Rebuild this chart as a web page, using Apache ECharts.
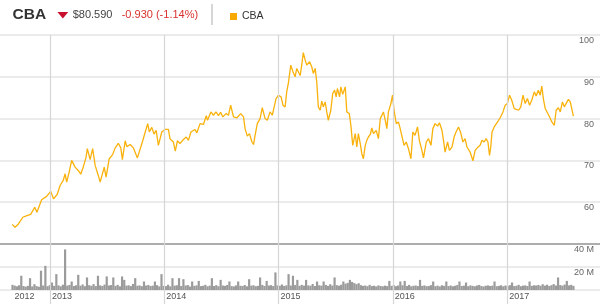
<!DOCTYPE html>
<html><head><meta charset="utf-8">
<script src="https://cdn.jsdelivr.net/npm/echarts@6/dist/echarts.min.js"></script>
<style>html,body{margin:0;padding:0;background:#fff}#c{width:600px;height:304px}</style>
</head><body><div id="c"></div>
<script>
const ticker = 'CBA';
const lastPrice = '$80.590';
const change = '-0.930 (-1.14%)';

const priceDates = [
'2012-09-02','2012-09-11','2012-09-22','2012-10-06','2012-10-19','2012-10-31','2012-11-13','2012-11-20','2012-12-05','2012-12-21',
'2013-01-03','2013-01-12','2013-01-24','2013-02-02','2013-02-12','2013-02-18','2013-02-23','2013-03-03','2013-03-11','2013-03-22',
'2013-04-01','2013-04-09','2013-04-17','2013-04-26','2013-04-30','2013-05-09','2013-05-17','2013-05-25','2013-06-04','2013-06-10',
'2013-06-15','2013-06-23','2013-06-29','2013-07-09','2013-07-20','2013-07-28','2013-08-07','2013-08-15','2013-08-20','2013-08-29',
'2013-09-03','2013-09-14','2013-09-24','2013-10-07','2013-10-13','2013-10-24','2013-11-01','2013-11-09','2013-11-14','2013-11-22',
'2013-11-29','2013-12-06','2013-12-13','2013-12-19','2013-12-24','2014-01-03','2014-01-14','2014-01-19','2014-01-30','2014-02-05',
'2014-02-12','2014-02-20','2014-03-03','2014-03-12','2014-03-19','2014-03-27','2014-04-09','2014-04-15','2014-04-25','2014-05-06',
'2014-05-15','2014-05-19','2014-05-30','2014-06-07','2014-06-15','2014-06-23','2014-06-30','2014-07-07','2014-07-17','2014-07-25',
'2014-08-01','2014-08-10','2014-08-21','2014-09-02','2014-09-11','2014-09-16','2014-09-23','2014-09-30','2014-10-08','2014-10-13',
'2014-10-18','2014-10-25','2014-11-03','2014-11-10','2014-11-19','2014-11-26','2014-12-05','2014-12-12','2014-12-18','2014-12-24',
'2015-01-01','2015-01-09','2015-01-15','2015-01-22','2015-01-27','2015-02-02','2015-02-09','2015-02-16','2015-02-23','2015-02-28',
'2015-03-11','2015-03-16','2015-03-21','2015-03-27','2015-04-01','2015-04-10','2015-04-17','2015-04-22','2015-04-28','2015-05-03',
'2015-05-05','2015-05-08','2015-05-14','2015-05-19','2015-05-24','2015-05-30','2015-06-04','2015-06-09','2015-06-17','2015-06-23',
'2015-06-29','2015-07-04','2015-07-08','2015-07-15','2015-07-19','2015-07-25','2015-08-02','2015-08-07','2015-08-15','2015-08-20',
'2015-08-23','2015-08-26','2015-09-03','2015-09-08','2015-09-13','2015-09-19','2015-09-24','2015-09-29','2015-10-05','2015-10-10',
'2015-10-15','2015-10-21','2015-10-26','2015-10-31','2015-11-09','2015-11-16','2015-11-22','2015-11-27','2015-12-02','2015-12-08',
'2015-12-13','2015-12-18','2015-12-26','2015-12-31','2016-01-05','2016-01-12','2016-01-19','2016-01-24','2016-01-30','2016-02-06',
'2016-02-13','2016-02-20','2016-02-28','2016-03-05','2016-03-12','2016-03-20','2016-03-26','2016-04-03','2016-04-08','2016-04-17',
'2016-04-24','2016-05-02','2016-05-08','2016-05-15','2016-05-23','2016-05-29','2016-06-06','2016-06-11','2016-06-16','2016-06-24',
'2016-06-30','2016-07-08','2016-07-15','2016-07-21','2016-07-29','2016-08-05','2016-08-12','2016-08-19','2016-08-25','2016-09-04',
'2016-09-13','2016-09-20','2016-09-27','2016-10-06','2016-10-12','2016-10-19','2016-10-25','2016-10-31','2016-11-05','2016-11-09',
'2016-11-13','2016-11-20','2016-11-26','2016-12-04','2016-12-09','2016-12-18','2016-12-25','2017-01-01','2017-01-08','2017-01-15',
'2017-01-23','2017-01-29','2017-02-06','2017-02-13','2017-02-20','2017-02-27','2017-03-06','2017-03-13','2017-03-20','2017-03-28',
'2017-04-03','2017-04-10','2017-04-16','2017-04-21','2017-04-26','2017-05-02','2017-05-09','2017-05-16','2017-05-23','2017-05-31',
'2017-06-06','2017-06-13','2017-06-19','2017-06-26','2017-07-02','2017-07-08','2017-07-15','2017-07-21','2017-07-26','2017-07-31'
];
const priceValues = [
54.7,54.0,54.8,56.4,56.8,57.1,58.8,57.6,60.6,61.4,
62.6,60.8,61.9,64.0,65.2,66.8,64.8,67.2,70.0,68.4,
67.6,66.7,68.4,70.8,72.8,70.2,72.8,68.8,66.4,64.8,
65.2,68.4,66.0,70.4,71.4,73.0,74.1,73.0,70.2,74.7,
73.3,73.8,73.0,70.6,71.0,74.7,76.8,78.8,76.8,77.9,
76.3,77.2,73.6,73.6,76.8,77.4,77.4,75.2,74.4,72.2,
74.7,74.0,75.0,75.6,74.8,76.8,77.4,76.6,78.8,78.6,
80.7,79.6,81.6,80.8,81.6,80.7,81.5,80.4,81.2,80.8,
83.2,80.4,80.2,81.2,80.4,77.6,75.8,76.4,74.4,73.8,
76.0,78.8,80.0,82.6,80.0,79.6,81.6,80.8,82.8,84.8,
85.6,85.2,83.2,82.8,86.4,88.8,92.8,91.2,90.0,92.0,
90.3,92.8,95.8,94.0,92.8,93.6,92.4,90.8,92.0,88.8,
86.4,82.8,82.0,84.2,82.8,84.0,81.6,79.6,82.0,86.0,
86.8,85.2,87.2,85.2,87.6,85.8,87.6,81.6,81.2,78.4,
76.0,73.6,76.4,73.2,76.4,74.0,71.6,70.4,73.6,74.8,
75.6,76.2,77.8,76.4,77.2,75.2,80.0,80.4,81.6,79.6,
77.6,81.6,83.6,85.6,82.0,78.8,79.2,77.8,77.6,73.6,
74.4,72.8,70.4,76.8,76.0,78.0,74.7,72.4,70.6,74.4,
75.2,73.6,77.6,78.8,78.2,79.0,77.2,74.8,72.0,74.4,
72.4,73.2,75.6,76.8,78.0,76.6,74.4,75.2,73.2,72.0,
69.9,72.4,73.0,73.6,74.8,74.4,75.2,74.4,71.2,73.2,
76.8,78.0,77.6,79.6,80.2,81.6,83.2,83.6,85.6,84.4,
82.4,82.8,82.0,82.8,85.6,83.6,84.8,83.2,84.4,86.4,
85.4,86.8,85.6,87.8,84.8,82.4,81.4,80.4,79.2,78.4,
82.0,82.6,81.6,84.0,82.8,83.2,84.6,84.0,84.4,80.6
];

// weekly volume in millions, first week starting volumeStart
const volumeStart = '2012-09-03';
const volumeValues = [
4.5,3.8,3.2,4.1,12.4,3.5,2.9,3.6,10.3,3.1,
5.0,3.4,2.8,16.8,3.9,21.0,3.3,4.2,6.5,3.6,
13.8,4.0,3.2,4.6,35.3,3.8,4.4,7.4,3.5,4.1,
13.2,3.7,4.8,3.3,10.9,4.2,3.6,5.1,3.4,12.4,
4.0,3.5,4.7,11.8,3.9,4.3,10.9,3.6,4.5,3.2,
11.8,8.8,3.8,4.1,3.4,5.2,10.3,3.7,4.0,3.3,
7.4,3.9,4.4,3.5,3.8,7.4,4.2,3.1,13.8,3.6,
3.4,4.6,3.2,10.3,3.8,4.1,10.3,3.5,9.4,3.9,
4.3,3.0,7.4,3.6,4.0,7.9,3.4,3.7,4.5,3.2,
3.8,10.3,3.5,4.2,3.3,8.8,3.9,3.6,4.4,7.4,
3.4,3.1,4.0,7.4,3.7,3.5,4.3,3.2,9.4,3.8,
4.1,3.3,3.6,10.9,4.4,3.5,7.9,3.9,4.2,3.4,
15.3,4.0,3.7,4.8,3.5,4.1,13.8,3.9,12.4,4.3,
8.8,3.6,4.5,3.8,8.8,4.0,3.7,5.2,3.5,7.4,
4.1,3.8,7.4,4.4,3.6,5.0,3.9,10.9,4.2,3.7,
4.6,7.4,5.5,6.2,8.8,7.0,6.0,5.1,5.9,4.2,
3.6,3.9,3.3,4.5,3.4,3.7,3.1,4.0,3.5,3.2,
3.8,3.4,7.9,3.6,4.2,3.3,3.9,7.4,4.1,7.9,
3.5,4.4,3.2,3.7,3.9,3.4,8.8,3.6,4.0,3.3,
3.5,4.2,7.4,3.3,3.8,3.1,4.1,3.6,7.4,3.4,
3.9,3.2,3.7,4.3,7.4,3.5,3.8,6.5,3.3,4.0,
3.6,3.2,3.9,4.4,3.4,3.1,3.7,4.0,3.5,3.8,
7.4,3.3,3.6,4.1,3.2,3.9,3.5,4.2,6.5,3.4,
3.7,4.5,3.3,3.8,4.0,3.5,7.4,3.6,4.1,3.9,
4.4,3.7,5.0,3.8,4.6,3.5,4.2,5.1,3.9,10.9,
4.3,3.8,4.7,7.9,4.0,4.5,3.6
];

const yearLines = ['2013-01-01','2014-01-01','2015-01-01','2016-01-01','2017-01-01'];
const yearLabelDates = ['2012-09-03','2013-01-01','2014-01-01','2015-01-01','2016-01-01','2017-01-01'];
const priceTicks = [60,70,80,90,100];
const volumeTicks = [20,40];
const axisStart = '2012-07-25';
const axisEnd = '2017-10-24';

const ts = s => { const p = s.split('-').map(Number); return Date.UTC(p[0], p[1]-1, p[2]); };
const DAY = 864e5;
const xMin = ts(axisStart), xMax = ts(axisEnd);
const priceData = priceDates.map((d,i) => [ts(d), priceValues[i]]);
const volData = volumeValues.map((v,i) => [ts(volumeStart) + i*7*DAY, v]);

const FONT = 'Arial, "Liberation Sans", sans-serif';
const LINE = '#f9b20c';

const chart = echarts.init(document.getElementById('c'), null, {renderer:'canvas'});
chart.setOption({
  animation: false,
  backgroundColor: '#fff',
  textStyle: {fontFamily: FONT},
  legend: {
    data: [ticker], left: 225, top: 6, icon: 'rect', itemWidth: 7, itemHeight: 7, itemGap: 5,
    selectedMode: false,
    textStyle: {fontSize: 10.5, color: '#333', fontFamily: FONT}
  },
  graphic: [
    {type:'text', x:12.5, y:15, style:{text: ticker, font:'bold 15.5px ' + FONT, fill:'#333', verticalAlign:'middle'}},
    {type:'polygon', shape:{points:[[57.4,12],[68.3,12],[62.85,18.4]]}, style:{fill:'#c8102e'}},
    {type:'text', x:72.7, y:15.3, style:{text: lastPrice, font:'11px ' + FONT, fill:'#444', verticalAlign:'middle'}},
    {type:'text', x:121.7, y:15.3, style:{text: change, font:'11px ' + FONT, fill:'#d8322f', verticalAlign:'middle'}},
    {type:'line', shape:{x1:212, y1:4, x2:212, y2:25}, style:{stroke:'#c8c8c8', lineWidth:1.5}}
  ],
  grid: [
    {left:0, right:0, top:35, bottom:60},
    {left:0, right:0, top:244, bottom:14},
    {left:0, right:0, top:35, bottom:0}
  ],
  xAxis: [
    {type:'value', gridIndex:0, min:xMin, max:xMax,
     axisLine:{show:true, onZero:false, lineStyle:{color:'#9a9a9a', width:1.5}}, axisTick:{show:false},
     axisLabel:{show:false}, splitLine:{show:false}},
    {type:'value', gridIndex:1, min:xMin, max:xMax,
     axisLine:{show:false}, axisTick:{show:false}, splitLine:{show:false},
     axisLabel:{show:true, customValues: yearLabelDates.map(ts), align:'left', padding:[0,0,0,2],
       margin:2, fontSize:9, color:'#555', fontFamily: FONT, hideOverlap:false,
       formatter: v => String(new Date(v).getUTCFullYear())}},
    {type:'value', gridIndex:2, min:xMin, max:xMax, show:false}
  ],
  yAxis: [
    {type:'value', gridIndex:0, position:'right', min:50, max:100, interval:10,
     axisLine:{show:false}, axisTick:{show:false},
     splitLine:{lineStyle:{color:'#e4e4e4', width:1.5}},
     axisLabel:{inside:true, margin:6, verticalAlign:'top', padding:[1,0,0,0], fontSize:9, color:'#666',
       fontFamily: FONT, formatter: v => priceTicks.includes(v) ? String(v) : ''}},
    {type:'value', gridIndex:1, position:'right', min:0, max:40, interval:20,
     axisLine:{show:false}, axisTick:{show:false},
     splitLine:{lineStyle:{color:'#e4e4e4', width:1.5}},
     axisLabel:{inside:true, margin:6, verticalAlign:'top', padding:[1,0,0,0], fontSize:9, color:'#666',
       fontFamily: FONT, formatter: v => volumeTicks.includes(v) ? v + ' M' : ''}},
    {type:'value', gridIndex:2, min:0, max:1, show:false}
  ],
  series: [
    {type:'line', name:'_years', xAxisIndex:2, yAxisIndex:2, z:0, silent:true,
     data:[[xMin, 0.5]], symbol:'none', lineStyle:{opacity:0},
     markLine:{silent:true, symbol:['none','none'], label:{show:false},
       lineStyle:{color:'#d6d6d6', width:1.2, type:'solid'},
       data: yearLines.map(d => ({xAxis: ts(d)}))}},
    {type:'bar', name:'Volume', xAxisIndex:1, yAxisIndex:1, z:2, data: volData,
     barWidth:2.2, itemStyle:{color:'#9b9b9b'}},
    {type:'line', name: ticker, xAxisIndex:0, yAxisIndex:0, z:3, data: priceData,
     showSymbol:false, symbol:'none', lineStyle:{color: LINE, width:1.3}, itemStyle:{color: '#f7a900'}}
  ]
});
</script></body></html>
